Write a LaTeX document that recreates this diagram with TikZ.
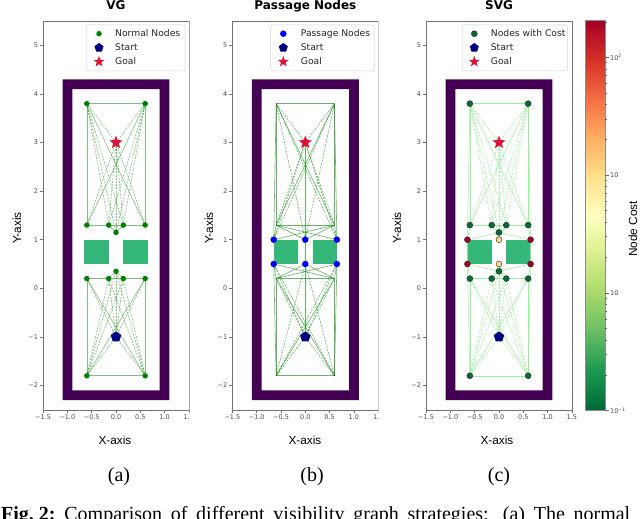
\documentclass[tikz,border=0pt]{standalone}
\usepackage{fontspec}
\setmainfont{Liberation Serif}
\newfontfamily\djv{DejaVu Sans}
\newfontfamily\lsans{Liberation Sans}
\usetikzlibrary{shapes.geometric}
\definecolor{wallc}{HTML}{440154}
\definecolor{obsc}{HTML}{35B779}
\definecolor{goalc}{HTML}{DC143C}
\definecolor{startc}{HTML}{000080}
\definecolor{nodeg}{HTML}{008000}
\definecolor{passb}{HTML}{0000FF}
\definecolor{lgreen}{HTML}{90EE90}
\definecolor{corange}{HTML}{FDD58B}
\definecolor{cnode}{HTML}{0B6B38}
\definecolor{cb0}{HTML}{006837}
\definecolor{cb1}{HTML}{1A9850}
\definecolor{cb2}{HTML}{66BD63}
\definecolor{cb3}{HTML}{A6D96A}
\definecolor{cb4}{HTML}{D9EF8B}
\definecolor{cb5}{HTML}{FFFFBF}
\definecolor{cb6}{HTML}{FEE08B}
\definecolor{cb7}{HTML}{FDAE61}
\definecolor{cb8}{HTML}{F46D43}
\definecolor{cb9}{HTML}{D73027}
\definecolor{cb10}{HTML}{A50026}
\tikzset{
  spine/.style={draw=black!55, line width=0.6pt},
  ticklab/.style={font=\djv\fontsize{6.5}{7}\selectfont, text=black!70, inner sep=0pt},
  axlab/.style={font=\lsans\fontsize{11.8}{13}\selectfont, inner sep=0pt},
  ttl/.style={font=\djv\bfseries\fontsize{12}{14}\selectfont, inner sep=0pt, anchor=base},
  legtxt/.style={font=\djv\fontsize{9.2}{11}\selectfont, inner sep=0pt, anchor=base west, text=black!85},
  legbox/.style={draw=black!18, fill=white, rounded corners=2pt, line width=0.5pt},
  wall/.style={fill=wallc, even odd rule},
  obst/.style={fill=obsc},
  gdot/.style={circle, fill=nodeg, inner sep=0pt, minimum size=5.5pt},
  bdot/.style={circle, fill=passb, inner sep=0pt, minimum size=6.5pt},
  cdot/.style={circle, draw=black!85, line width=0.4pt, inner sep=0pt, minimum size=6pt},
  goalm/.style={star, star points=5, star point ratio=2.4, fill=goalc, inner sep=0pt, minimum size=14pt},
  startm/.style={regular polygon, regular polygon sides=5, fill=startc, inner sep=0pt, minimum size=11pt},
  ea/.style={draw=nodeg, draw opacity=0.5, line width=0.6pt},
  ead/.style={ea, dash pattern=on 2pt off 1.2pt},
  eb/.style={draw=nodeg, draw opacity=0.6, line width=0.6pt},
  ebd/.style={eb, dash pattern=on 2pt off 1.2pt},
  ec/.style={draw=lgreen, draw opacity=0.9, line width=0.5pt},
  ecd/.style={ec, dash pattern=on 2pt off 1.2pt},
  capt/.style={font=\fontsize{20}{24}\selectfont, inner sep=0pt}
}
\newcommand\myaxes[1]{%
  \fill[wall] (-1.1,-2.3) rectangle (1.1,4.3) (-0.9,-2.1) rectangle (0.9,4.1);
  \fill[obst] (-0.65,0.5) rectangle (-0.15,1.0);
  \fill[obst] (0.15,0.5) rectangle (0.65,1.0);
  \draw[spine] (-1.5,-2.5) rectangle (1.5,5.5);
  \foreach \v/\l in {-2/−2,-1/−1,0/0,1/1,2/2,3/3,4/4,5/5}{%
    \draw[spine] (-1.5,\v) -- ++(-3.5pt,0);
    \node[ticklab, anchor=east, xshift=-5pt] at (-1.5,\v) {\l};}
  \foreach \v/\l in {-1.5/−1.5,-1/−1.0,-0.5/−0.5,0/0.0,0.5/0.5,1/1.0,1.5/1.5}{%
    \draw[spine] (\v,-2.5) -- ++(0,-3.5pt);
    \node[ticklab, anchor=north, yshift=-5pt] at (\v,-2.5) {\l};}
  \coordinate (#1TL) at (-0.6,3.8);
  \coordinate (#1TR) at (0.6,3.8);
  \coordinate (#1G) at (0,3);
  \coordinate (#1A) at (-0.6,1.3);
  \coordinate (#1B) at (-0.15,1.3);
  \coordinate (#1C) at (0.15,1.3);
  \coordinate (#1D) at (0.6,1.3);
  \coordinate (#1E) at (0,1.15);
  \coordinate (#1P1) at (-0.65,1);
  \coordinate (#1P2) at (0,1);
  \coordinate (#1P3) at (0.65,1);
  \coordinate (#1Q1) at (-0.65,0.5);
  \coordinate (#1Q2) at (0,0.5);
  \coordinate (#1Q3) at (0.65,0.5);
  \coordinate (#1E2) at (0,0.35);
  \coordinate (#1A2) at (-0.6,0.2);
  \coordinate (#1B2) at (-0.15,0.2);
  \coordinate (#1C2) at (0.15,0.2);
  \coordinate (#1D2) at (0.6,0.2);
  \coordinate (#1S) at (0,-1);
  \coordinate (#1BL) at (-0.6,-1.8);
  \coordinate (#1BR) at (0.6,-1.8);
}
\newcommand\solidA{TL/TR,TL/A,TR/D,A/B,B/C,C/D,TL/D,TR/A,B/E,C/E,BL/BR,BL/A2,BR/D2,A2/B2,B2/C2,C2/D2,BL/D2,BR/A2,B2/E2,C2/E2}
\newcommand\dashA{TL/B,TL/C,TL/E,TR/B,TR/C,TR/E,G/TL,G/TR,G/A,G/B,G/C,G/D,G/E,BL/B2,BL/C2,BL/E2,BR/B2,BR/C2,BR/E2,S/BL,S/BR,S/A2,S/B2,S/C2,S/D2,S/E2}
\newcommand\solidB{TL/TR,TL/A,TR/D,A/D,TL/D,TR/A,TL/P1,TR/P3,A/P1,D/P3,A/P2,D/P2,A/P3,D/P1,P2/Q2,G/P2,BL/BR,BL/A2,BR/D2,A2/D2,BL/D2,BR/A2,BL/Q1,BR/Q3,A2/Q1,D2/Q3,A2/Q2,D2/Q2,A2/Q3,D2/Q1,S/Q2}
\newcommand\dashB{TL/P2,TR/P2,TL/P3,TR/P1,G/P1,G/P3,G/A,G/D,G/TL,G/TR,BL/Q2,BR/Q2,BL/Q3,BR/Q1,S/Q1,S/Q3,S/A2,S/D2,S/BL,S/BR}
\newcommand\passC{A/P1,E/P1,E/P3,D/P3,E/P2,B/P2,C/P2,P1/Q1,P3/Q3,A2/Q1,D2/Q3,E2/Q1,E2/Q3,E2/Q2,B2/Q2,C2/Q2,TL/P1,TR/P3,BL/Q1,BR/Q3}
\begin{document}
\begin{tikzpicture}[x=1pt,y=-1pt]
\useasboundingbox (0,0) rectangle (640,519);
\fill[white] (0,0) rectangle (640,519);

% ---------------- panel (a) VG
\begin{scope}
\clip (0,0) rectangle (189.6,519);
\begin{scope}[shift={(116pt,-288.3pt)}, x=48.6pt, y=48.6pt]
  \myaxes{a}
  \foreach \u/\v in \solidA {\draw[ea] (a\u) -- (a\v);}
  \foreach \u/\v in \dashA {\draw[ead] (a\u) -- (a\v);}
  \foreach \p in {TL,TR,A,B,C,D,E,E2,A2,B2,C2,D2,BL,BR}{\node[gdot] (am\p) at (a\p) {};}
  \node[goalm] (amG) at (aG) {};
  \node[startm] (amS) at (aS) {};
\end{scope}
\end{scope}

% ---------------- panel (b) Passage Nodes
\begin{scope}
\clip (0,0) rectangle (378.4,519);
\begin{scope}[shift={(305.3pt,-288.3pt)}, x=48.6pt, y=48.6pt]
  \myaxes{b}
  \foreach \u/\v in \solidB {\draw[eb] (b\u) -- (b\v);}
  \foreach \u/\v in \dashB {\draw[ebd] (b\u) -- (b\v);}
  \foreach \p in {P1,P2,P3,Q1,Q2,Q3}{\node[bdot] (bm\p) at (b\p) {};}
  \node[goalm] (bmG) at (bG) {};
  \node[startm] (bmS) at (bS) {};
\end{scope}
\end{scope}

% ---------------- panel (c) SVG
\begin{scope}[shift={(499pt,-288.3pt)}, x=48.6pt, y=48.6pt]
  \myaxes{c}
  \foreach \u/\v in \solidA {\draw[ec] (c\u) -- (c\v);}
  \foreach \u/\v in \dashA {\draw[ecd] (c\u) -- (c\v);}
  \foreach \u/\v in \passC {\draw[ec] (c\u) -- (c\v);}
  \foreach \p in {TL,TR,A,B,C,D,E,E2,A2,B2,C2,D2,BL,BR}{\node[cdot, fill=cnode] (cm\p) at (c\p) {};}
  \foreach \p in {P1,P3,Q1,Q3}{\node[cdot, fill=cb10] (cm\p) at (c\p) {};}
  \foreach \p in {P2,Q2}{\node[cdot, fill=corange] (cm\p) at (c\p) {};}
  \node[goalm] (cmG) at (cG) {};
  \node[startm] (cmS) at (cS) {};
\end{scope}

% ---------------- legends
\draw[legbox] (86,25) rectangle (185,71);
\node[gdot] (la1) at (99,33.7) {};
\node[legtxt] (lt1) at (115,37) {Normal Nodes};
\node[startm, minimum size=9.5pt] (la2) at (99,47.7) {};
\node[legtxt] (lt2) at (115,51) {Start};
\node[goalm, minimum size=11.5pt] (la3) at (99,61.7) {};
\node[legtxt] (lt3) at (115,65) {Goal};

\draw[legbox] (270.7,25) rectangle (374,71);
\node[bdot] (lb1) at (283.3,33.7) {};
\node[legtxt] (ltb1) at (300.7,37) {Passage Nodes};
\node[startm, minimum size=9.5pt] (lb2) at (283.3,47.7) {};
\node[legtxt] (ltb2) at (300.7,51) {Start};
\node[goalm, minimum size=11.5pt] (lb3) at (283.3,61.7) {};
\node[legtxt] (ltb3) at (300.7,65) {Goal};

\draw[legbox] (462,25) rectangle (567.3,71);
\node[cdot, fill=cnode] (lc1) at (474.3,33.7) {};
\node[legtxt] (ltc1) at (490.7,37) {Nodes with Cost};
\node[startm, minimum size=9.5pt] (lc2) at (474.3,47.7) {};
\node[legtxt] (ltc2) at (490.7,51) {Start};
\node[goalm, minimum size=11.5pt] (lc3) at (474.3,61.7) {};
\node[legtxt] (ltc3) at (490.7,65) {Goal};

% ---------------- titles and labels
\node[ttl] (t1) at (116,9.8) {VG};
\node[ttl] (t2) at (305.3,9.8) {Passage Nodes};
\node[ttl] (t3) at (499,9.8) {SVG};
\node[axlab, anchor=base] (x1) at (115,444.5) {X-axis};
\node[axlab, anchor=base] (x2) at (305,444.5) {X-axis};
\node[axlab, anchor=base] (x3) at (497,444.5) {X-axis};
\node[axlab, rotate=90] (y1) at (17,228) {Y-axis};
\node[axlab, rotate=90] (y2) at (209,228) {Y-axis};
\node[axlab, rotate=90] (y3) at (397,228) {Y-axis};
\node[axlab, rotate=90] (nc) at (633,229) {Node Cost};

% ---------------- colorbar
\foreach \i [evaluate=\i as \j using int(\i+1)] in {0,...,9}{%
  \shade[bottom color=cb\i, top color=cb\j] (585,{410.7-39*\i+0.2}) rectangle (605,{410.7-39*\i-39.2});}
\draw[draw=black!45, line width=0.5pt] (585,20.7) rectangle (605,410.7);
\foreach \e in {-1,0,1}{\foreach \m in {2,...,9}{%
  \draw[draw=black!60, line width=0.4pt] (605,{410.7-117.8*(\e+1+ln(\m)/ln(10))}) -- ++(2,0);}}
\draw[draw=black!60, line width=0.4pt] (605,{57.3-117.8*ln(2)/ln(10)}) -- ++(2,0);
\foreach \yy in {57.3,175.1,292.9,410.7}{\draw[draw=black!60, line width=0.5pt] (605,\yy) -- ++(3.5,0);}
\node[ticklab, anchor=west] (cl1) at (610,57.3) {10\textsuperscript{2}};
\node[ticklab, anchor=west] (cl2) at (610,175.1) {10};
\node[ticklab, anchor=west] (cl3) at (610,292.9) {10};
\node[ticklab, anchor=west] (cl4) at (610,410.7) {10\textsuperscript{−1}};

% ---------------- sub-captions and caption
\node[capt, anchor=base] (sa) at (119,481.5) {(a)};
\node[capt, anchor=base] (sb) at (312,481.5) {(b)};
\node[capt, anchor=base] (sc) at (499,481.5) {(c)};
\node[capt, anchor=base west] (cap) at (1,520.5) {\makebox[629pt][s]{\hbox{\textbf{Fig.~2:}} Comparison of different visibility graph strategies: (a) The normal}};
\end{tikzpicture}
\end{document}
